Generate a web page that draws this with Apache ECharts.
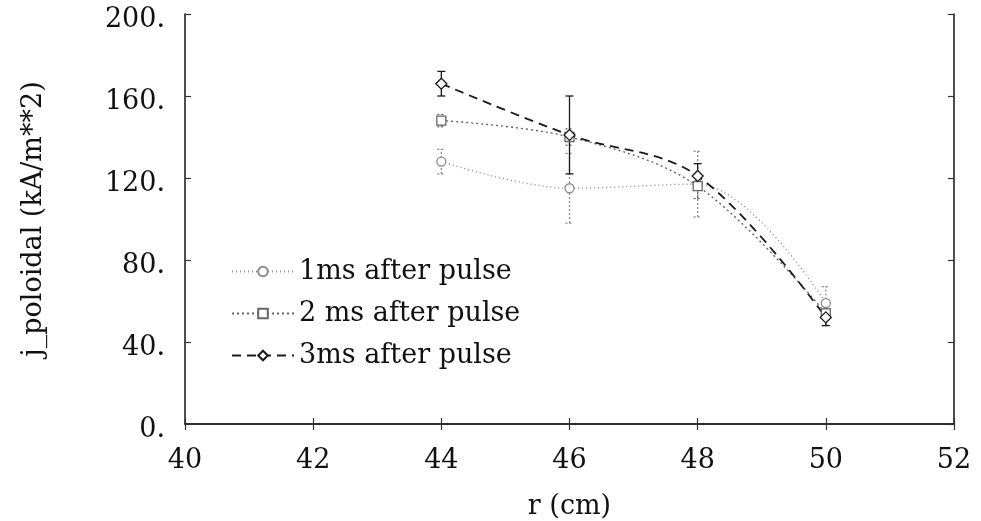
<!DOCTYPE html>
<html><head><meta charset="utf-8">
<script src="https://cdn.jsdelivr.net/npm/echarts@6/dist/echarts.min.js"></script>
<style>html,body{margin:0;padding:0;background:#fff}#c{width:981px;height:521px}</style>
</head><body><div id="c"></div>
<script>
const rValues = [44, 46, 48, 50];
const j1ms = [128, 115, 117, 59];
const err1ms = [6, 17, 16, 8];
const j2ms = [148, 140, 116, 54];
const err2ms = [3, 4, 6, 6];
const j3ms = [166, 141, 121, 52];
const err3ms = [6, 19, 6, 4];
const seriesNames = ['1ms after pulse', '2 ms after pulse', '3ms after pulse'];
const xTicks = [40, 42, 44, 46, 48, 50, 52];
const yTicks = [0, 40, 80, 120, 160, 200];

const FONT = 'DejaVu Serif';
const colors = ['#8a8a8a', '#666666', '#1a1a1a'];
const lineTypes = [[1, 3], [2, 3], [9, 6]];
const symbols = ['circle', 'rect', 'diamond'];

function pairs(v){ return rValues.map((x,i)=>[x, v[i]]); }
function errData(v,e){ return rValues.map((x,i)=>[x, v[i]-e[i], v[i]+e[i]]); }
function errRender(color, dash){
  return function(params, api){
    const x = api.value(0);
    const a = api.coord([x, api.value(1)]);
    const b = api.coord([x, api.value(2)]);
    const w = 4;
    const st = {stroke: color, lineWidth: 1.3, lineDash: dash};
    return {type:'group', children:[
      {type:'line', shape:{x1:a[0],y1:a[1],x2:b[0],y2:b[1]}, style:st},
      {type:'line', shape:{x1:a[0]-w,y1:a[1],x2:a[0]+w,y2:a[1]}, style:st},
      {type:'line', shape:{x1:b[0]-w,y1:b[1],x2:b[0]+w,y2:b[1]}, style:st}
    ]};
  };
}

const vals = [j1ms, j2ms, j3ms];
const errs = [err1ms, err2ms, err3ms];
const series = [];
vals.forEach((v,k)=>{
  series.push({
    name: seriesNames[k], type:'line', data: pairs(v), smooth: 0.35,
    symbol: symbols[k], symbolSize: k===2?11:9,
    itemStyle:{color:'#fff', borderColor: colors[k], borderWidth:1.3},
    lineStyle:{color: colors[k], width: k===2?1.8:1.4, type: lineTypes[k]},
    z: 3
  });
  series.push({
    type:'custom', name: seriesNames[k], renderItem: errRender(colors[k], k===2?null:[2,2]),
    data: errData(v, errs[k]), encode:{x:0, y:[1,2]}, z:2, silent:true
  });
});

const axisLine = {show:true, lineStyle:{color:'#222', width:1.6}};
const tick = {show:true, inside:true, length:6, lineStyle:{color:'#333', width:1.2}};
const labelStyle = {fontFamily: FONT, fontSize: 27, color:'#111'};

const chart = echarts.init(document.getElementById('c'));
chart.setOption({
  animation:false,
  backgroundColor:'#fff',
  grid:{left:185, right:27, top:14, bottom:97, containLabel:false, outerBoundsMode:'none'},
  legend:{
    orient:'vertical', left:226, top:253, itemGap:15, itemWidth:62, itemHeight:12,
    data: seriesNames,
    textStyle:{fontFamily:FONT, fontSize:27, color:'#111'}
  },
  xAxis:[{
    type:'value', min:40, max:52, interval:2, position:'bottom',
    name:'r (cm)', nameLocation:'middle', nameGap:69,
    nameTextStyle:{fontFamily:FONT, fontSize:27, color:'#111'},
    axisLine, axisTick: tick, splitLine:{show:false},
    axisLabel:{...labelStyle, margin:23, formatter:v=>xTicks.includes(v)?String(v):''}
  },{
    type:'value', min:40, max:52, interval:2, position:'top',
    axisLine, axisTick: tick, splitLine:{show:false}, axisLabel:{show:false}
  }],
  yAxis:[{
    type:'value', min:0, max:200, interval:40, position:'left',
    name:'j_poloidal (kA/m**2)', nameLocation:'middle', nameGap:138,
    nameTextStyle:{fontFamily:FONT, fontSize:27, color:'#111'},
    axisLine, axisTick: tick, splitLine:{show:false},
    axisLabel:{...labelStyle, margin:20,
      formatter:v=>yTicks.includes(v)?'{a|'+v+'.}':'',
      rich:{a:{fontFamily:FONT, fontSize:27, color:'#111', padding:[12,0,0,0]}}}
  },{
    type:'value', min:0, max:200, interval:40, position:'right',
    axisLine, axisTick: tick, splitLine:{show:false}, axisLabel:{show:false}
  }],
  series
});
</script></body></html>
